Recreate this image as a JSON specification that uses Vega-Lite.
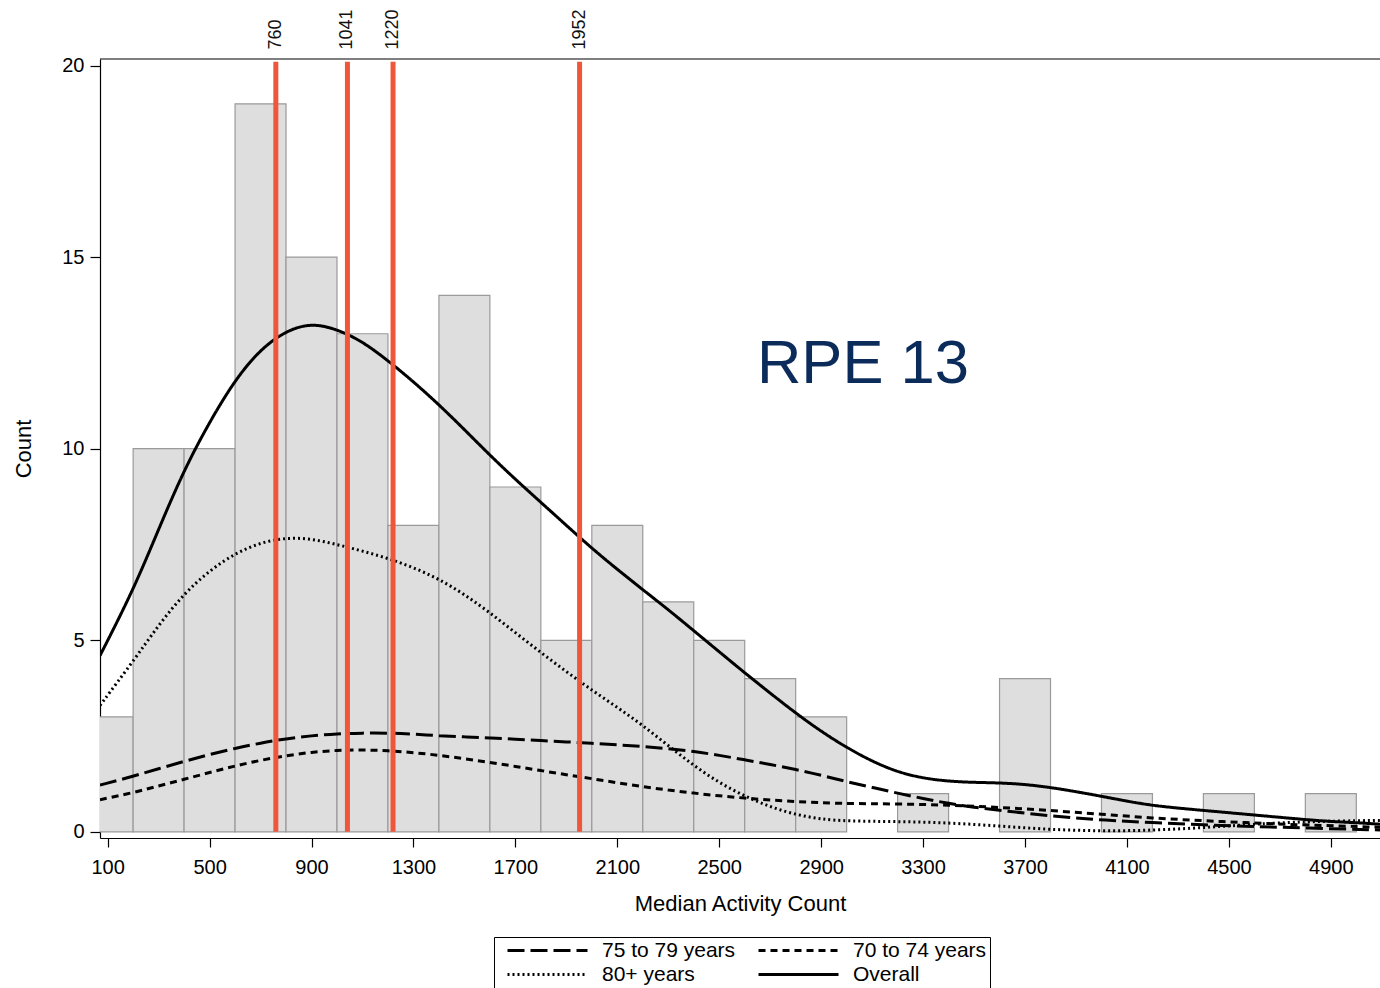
{
  "$schema": "https://vega.github.io/schema/vega-lite/v6.json",
  "width": 1280,
  "height": 779,
  "autosize": "none",
  "padding": {"left": 100, "top": 59, "right": 0, "bottom": 150},
  "background": "white",
  "config": {
    "font": "Liberation Sans",
    "view": {"stroke": null},
    "axis": {
      "grid": false,
      "domainColor": "#000000",
      "domainWidth": 1.2,
      "tickColor": "#000000",
      "tickWidth": 1.2,
      "labelColor": "#000000",
      "labelFont": "Liberation Sans",
      "labelFontSize": 20,
      "titleFont": "Liberation Sans",
      "titleFontSize": 22,
      "titleFontWeight": "normal",
      "titleColor": "#000000"
    },
    "legend": {
      "labelFont": "Liberation Sans",
      "labelFontSize": 21,
      "labelColor": "#000000"
    }
  },
  "datasets": {
    "bars": [
      {"bin_start": 0, "bin_end": 200, "count": 3},
      {"bin_start": 200, "bin_end": 400, "count": 10},
      {"bin_start": 400, "bin_end": 600, "count": 10},
      {"bin_start": 600, "bin_end": 800, "count": 19},
      {"bin_start": 800, "bin_end": 1000, "count": 15},
      {"bin_start": 1000, "bin_end": 1200, "count": 13},
      {"bin_start": 1200, "bin_end": 1400, "count": 8},
      {"bin_start": 1400, "bin_end": 1600, "count": 14},
      {"bin_start": 1600, "bin_end": 1800, "count": 9},
      {"bin_start": 1800, "bin_end": 2000, "count": 5},
      {"bin_start": 2000, "bin_end": 2200, "count": 8},
      {"bin_start": 2200, "bin_end": 2400, "count": 6},
      {"bin_start": 2400, "bin_end": 2600, "count": 5},
      {"bin_start": 2600, "bin_end": 2800, "count": 4},
      {"bin_start": 2800, "bin_end": 3000, "count": 3},
      {"bin_start": 3200, "bin_end": 3400, "count": 1},
      {"bin_start": 3600, "bin_end": 3800, "count": 4},
      {"bin_start": 4000, "bin_end": 4200, "count": 1},
      {"bin_start": 4400, "bin_end": 4600, "count": 1},
      {"bin_start": 4800, "bin_end": 5000, "count": 1}
    ],
    "medians": [
      {"value": 760, "label": "760"},
      {"value": 1041, "label": "1041"},
      {"value": 1220, "label": "1220"},
      {"value": 1952, "label": "1952"}
    ],
    "curves": [
      {"series": "Overall", "x": 70, "y": 4.6},
      {"series": "Overall", "x": 200, "y": 6.3},
      {"series": "Overall", "x": 300, "y": 7.9},
      {"series": "Overall", "x": 400, "y": 9.45},
      {"series": "Overall", "x": 500, "y": 10.7},
      {"series": "Overall", "x": 600, "y": 11.8},
      {"series": "Overall", "x": 700, "y": 12.6},
      {"series": "Overall", "x": 800, "y": 13.08},
      {"series": "Overall", "x": 900, "y": 13.28},
      {"series": "Overall", "x": 1000, "y": 13.12},
      {"series": "Overall", "x": 1100, "y": 12.8},
      {"series": "Overall", "x": 1200, "y": 12.3},
      {"series": "Overall", "x": 1300, "y": 11.75},
      {"series": "Overall", "x": 1400, "y": 11.15},
      {"series": "Overall", "x": 1500, "y": 10.5},
      {"series": "Overall", "x": 1600, "y": 9.83},
      {"series": "Overall", "x": 1700, "y": 9.2},
      {"series": "Overall", "x": 1800, "y": 8.6},
      {"series": "Overall", "x": 1900, "y": 8.0},
      {"series": "Overall", "x": 2000, "y": 7.4},
      {"series": "Overall", "x": 2100, "y": 6.85},
      {"series": "Overall", "x": 2200, "y": 6.32},
      {"series": "Overall", "x": 2300, "y": 5.8},
      {"series": "Overall", "x": 2400, "y": 5.25},
      {"series": "Overall", "x": 2500, "y": 4.7},
      {"series": "Overall", "x": 2600, "y": 4.15},
      {"series": "Overall", "x": 2700, "y": 3.62},
      {"series": "Overall", "x": 2800, "y": 3.1},
      {"series": "Overall", "x": 2900, "y": 2.62},
      {"series": "Overall", "x": 3000, "y": 2.2},
      {"series": "Overall", "x": 3100, "y": 1.84},
      {"series": "Overall", "x": 3200, "y": 1.56},
      {"series": "Overall", "x": 3300, "y": 1.4},
      {"series": "Overall", "x": 3400, "y": 1.32},
      {"series": "Overall", "x": 3500, "y": 1.29},
      {"series": "Overall", "x": 3600, "y": 1.28},
      {"series": "Overall", "x": 3700, "y": 1.24},
      {"series": "Overall", "x": 3800, "y": 1.16},
      {"series": "Overall", "x": 3900, "y": 1.05},
      {"series": "Overall", "x": 4000, "y": 0.93},
      {"series": "Overall", "x": 4100, "y": 0.8},
      {"series": "Overall", "x": 4200, "y": 0.69},
      {"series": "Overall", "x": 4300, "y": 0.62},
      {"series": "Overall", "x": 4400, "y": 0.56},
      {"series": "Overall", "x": 4500, "y": 0.5},
      {"series": "Overall", "x": 4600, "y": 0.44},
      {"series": "Overall", "x": 4700, "y": 0.38},
      {"series": "Overall", "x": 4800, "y": 0.32},
      {"series": "Overall", "x": 4900, "y": 0.27},
      {"series": "Overall", "x": 5000, "y": 0.24},
      {"series": "Overall", "x": 5093, "y": 0.2},

      {"series": "75 to 79 years", "x": 70, "y": 1.22},
      {"series": "75 to 79 years", "x": 200, "y": 1.45},
      {"series": "75 to 79 years", "x": 300, "y": 1.65},
      {"series": "75 to 79 years", "x": 400, "y": 1.84},
      {"series": "75 to 79 years", "x": 500, "y": 2.02},
      {"series": "75 to 79 years", "x": 600, "y": 2.18},
      {"series": "75 to 79 years", "x": 700, "y": 2.32},
      {"series": "75 to 79 years", "x": 800, "y": 2.43},
      {"series": "75 to 79 years", "x": 900, "y": 2.51},
      {"series": "75 to 79 years", "x": 1000, "y": 2.56},
      {"series": "75 to 79 years", "x": 1100, "y": 2.58},
      {"series": "75 to 79 years", "x": 1200, "y": 2.58},
      {"series": "75 to 79 years", "x": 1300, "y": 2.55},
      {"series": "75 to 79 years", "x": 1400, "y": 2.51},
      {"series": "75 to 79 years", "x": 1500, "y": 2.48},
      {"series": "75 to 79 years", "x": 1600, "y": 2.45},
      {"series": "75 to 79 years", "x": 1700, "y": 2.42},
      {"series": "75 to 79 years", "x": 1800, "y": 2.38},
      {"series": "75 to 79 years", "x": 1900, "y": 2.35},
      {"series": "75 to 79 years", "x": 2000, "y": 2.31},
      {"series": "75 to 79 years", "x": 2100, "y": 2.27},
      {"series": "75 to 79 years", "x": 2200, "y": 2.23},
      {"series": "75 to 79 years", "x": 2300, "y": 2.17},
      {"series": "75 to 79 years", "x": 2400, "y": 2.1},
      {"series": "75 to 79 years", "x": 2500, "y": 2.0},
      {"series": "75 to 79 years", "x": 2600, "y": 1.88},
      {"series": "75 to 79 years", "x": 2700, "y": 1.76},
      {"series": "75 to 79 years", "x": 2800, "y": 1.63},
      {"series": "75 to 79 years", "x": 2900, "y": 1.48},
      {"series": "75 to 79 years", "x": 3000, "y": 1.31},
      {"series": "75 to 79 years", "x": 3100, "y": 1.16},
      {"series": "75 to 79 years", "x": 3200, "y": 1.01},
      {"series": "75 to 79 years", "x": 3300, "y": 0.87},
      {"series": "75 to 79 years", "x": 3400, "y": 0.74},
      {"series": "75 to 79 years", "x": 3500, "y": 0.64},
      {"series": "75 to 79 years", "x": 3600, "y": 0.56},
      {"series": "75 to 79 years", "x": 3700, "y": 0.49},
      {"series": "75 to 79 years", "x": 3800, "y": 0.42},
      {"series": "75 to 79 years", "x": 3900, "y": 0.36},
      {"series": "75 to 79 years", "x": 4000, "y": 0.31},
      {"series": "75 to 79 years", "x": 4200, "y": 0.24},
      {"series": "75 to 79 years", "x": 4400, "y": 0.18},
      {"series": "75 to 79 years", "x": 4600, "y": 0.14},
      {"series": "75 to 79 years", "x": 4800, "y": 0.1},
      {"series": "75 to 79 years", "x": 5093, "y": 0.05},

      {"series": "70 to 74 years", "x": 70, "y": 0.84},
      {"series": "70 to 74 years", "x": 200, "y": 1.02},
      {"series": "70 to 74 years", "x": 300, "y": 1.2},
      {"series": "70 to 74 years", "x": 400, "y": 1.37},
      {"series": "70 to 74 years", "x": 500, "y": 1.55},
      {"series": "70 to 74 years", "x": 600, "y": 1.72},
      {"series": "70 to 74 years", "x": 700, "y": 1.87},
      {"series": "70 to 74 years", "x": 800, "y": 1.99},
      {"series": "70 to 74 years", "x": 900, "y": 2.08},
      {"series": "70 to 74 years", "x": 1000, "y": 2.13},
      {"series": "70 to 74 years", "x": 1100, "y": 2.14},
      {"series": "70 to 74 years", "x": 1200, "y": 2.12},
      {"series": "70 to 74 years", "x": 1300, "y": 2.07},
      {"series": "70 to 74 years", "x": 1400, "y": 2.0},
      {"series": "70 to 74 years", "x": 1500, "y": 1.91},
      {"series": "70 to 74 years", "x": 1600, "y": 1.81},
      {"series": "70 to 74 years", "x": 1700, "y": 1.71},
      {"series": "70 to 74 years", "x": 1800, "y": 1.6},
      {"series": "70 to 74 years", "x": 1900, "y": 1.49},
      {"series": "70 to 74 years", "x": 2000, "y": 1.39},
      {"series": "70 to 74 years", "x": 2100, "y": 1.28},
      {"series": "70 to 74 years", "x": 2200, "y": 1.18},
      {"series": "70 to 74 years", "x": 2300, "y": 1.09},
      {"series": "70 to 74 years", "x": 2400, "y": 1.01},
      {"series": "70 to 74 years", "x": 2500, "y": 0.94},
      {"series": "70 to 74 years", "x": 2600, "y": 0.88},
      {"series": "70 to 74 years", "x": 2700, "y": 0.83},
      {"series": "70 to 74 years", "x": 2800, "y": 0.79},
      {"series": "70 to 74 years", "x": 2900, "y": 0.76},
      {"series": "70 to 74 years", "x": 3000, "y": 0.74},
      {"series": "70 to 74 years", "x": 3200, "y": 0.73},
      {"series": "70 to 74 years", "x": 3400, "y": 0.7},
      {"series": "70 to 74 years", "x": 3600, "y": 0.64},
      {"series": "70 to 74 years", "x": 3800, "y": 0.56},
      {"series": "70 to 74 years", "x": 4000, "y": 0.46},
      {"series": "70 to 74 years", "x": 4200, "y": 0.36},
      {"series": "70 to 74 years", "x": 4400, "y": 0.29},
      {"series": "70 to 74 years", "x": 4600, "y": 0.23},
      {"series": "70 to 74 years", "x": 4800, "y": 0.18},
      {"series": "70 to 74 years", "x": 5093, "y": 0.12},

      {"series": "80+ years", "x": 70, "y": 3.3},
      {"series": "80+ years", "x": 200, "y": 4.45},
      {"series": "80+ years", "x": 300, "y": 5.4},
      {"series": "80+ years", "x": 400, "y": 6.22},
      {"series": "80+ years", "x": 500, "y": 6.82},
      {"series": "80+ years", "x": 600, "y": 7.27},
      {"series": "80+ years", "x": 700, "y": 7.55},
      {"series": "80+ years", "x": 800, "y": 7.68},
      {"series": "80+ years", "x": 900, "y": 7.65},
      {"series": "80+ years", "x": 1000, "y": 7.5},
      {"series": "80+ years", "x": 1100, "y": 7.33},
      {"series": "80+ years", "x": 1200, "y": 7.14},
      {"series": "80+ years", "x": 1300, "y": 6.9},
      {"series": "80+ years", "x": 1400, "y": 6.6},
      {"series": "80+ years", "x": 1500, "y": 6.2},
      {"series": "80+ years", "x": 1600, "y": 5.72},
      {"series": "80+ years", "x": 1700, "y": 5.2},
      {"series": "80+ years", "x": 1800, "y": 4.68},
      {"series": "80+ years", "x": 1900, "y": 4.18},
      {"series": "80+ years", "x": 2000, "y": 3.7},
      {"series": "80+ years", "x": 2100, "y": 3.25},
      {"series": "80+ years", "x": 2200, "y": 2.78},
      {"series": "80+ years", "x": 2300, "y": 2.25},
      {"series": "80+ years", "x": 2400, "y": 1.73},
      {"series": "80+ years", "x": 2500, "y": 1.28},
      {"series": "80+ years", "x": 2600, "y": 0.93},
      {"series": "80+ years", "x": 2700, "y": 0.65},
      {"series": "80+ years", "x": 2800, "y": 0.45},
      {"series": "80+ years", "x": 2900, "y": 0.33},
      {"series": "80+ years", "x": 3000, "y": 0.28},
      {"series": "80+ years", "x": 3200, "y": 0.27},
      {"series": "80+ years", "x": 3400, "y": 0.24},
      {"series": "80+ years", "x": 3600, "y": 0.15},
      {"series": "80+ years", "x": 3800, "y": 0.06},
      {"series": "80+ years", "x": 4000, "y": 0.02},
      {"series": "80+ years", "x": 4200, "y": 0.04},
      {"series": "80+ years", "x": 4400, "y": 0.11},
      {"series": "80+ years", "x": 4600, "y": 0.2},
      {"series": "80+ years", "x": 4800, "y": 0.27},
      {"series": "80+ years", "x": 5093, "y": 0.3}
    ]
  },
  "layer": [
    {
      "data": {"name": "bars"},
      "mark": {"type": "rect", "fill": "#dedede", "stroke": "#9a9a9a", "strokeWidth": 1.2, "clip": true},
      "encoding": {
        "x": {
          "field": "bin_start", "type": "quantitative",
          "scale": {"domain": [70, 5093], "nice": false, "zero": false},
          "axis": {
            "orient": "bottom",
            "values": [100, 500, 900, 1300, 1700, 2100, 2500, 2900, 3300, 3700, 4100, 4500, 4900],
            "format": "d",
            "tickSize": 9,
            "labelPadding": 10,
            "title": "Median Activity Count",
            "titlePadding": 16
          }
        },
        "x2": {"field": "bin_end"},
        "y": {
          "field": "count", "type": "quantitative",
          "scale": {"domain": [-0.16, 20.17], "nice": false, "zero": false},
          "axis": {
            "values": [0, 5, 10, 15, 20],
            "tickSize": 10,
            "labelPadding": 6,
            "title": "Count",
            "titlePadding": 26
          }
        },
        "y2": {"datum": 0}
      }
    },
    {
      "data": {"name": "curves"},
      "mark": {"type": "line", "color": "#000000", "strokeWidth": 3, "interpolate": "basis", "clip": true, "strokeCap": "butt"},
      "encoding": {
        "x": {"field": "x", "type": "quantitative", "scale": {"domain": [70, 5093], "nice": false, "zero": false}},
        "y": {"field": "y", "type": "quantitative", "scale": {"domain": [-0.16, 20.17], "nice": false, "zero": false}},
        "strokeDash": {
          "field": "series", "type": "nominal",
          "scale": {
            "domain": ["75 to 79 years", "70 to 74 years", "80+ years", "Overall"],
            "range": [[17, 6], [7, 5], [2, 3], [1, 0]]
          },
          "legend": {
            "title": null,
            "orient": "none",
            "legendX": 394,
            "legendY": 878,
            "columns": 2,
            "direction": "horizontal",
            "symbolType": "stroke",
            "symbolSize": 6400,
            "symbolStrokeWidth": 3,
            "symbolStrokeColor": "#000000",
            "symbolOffset": 9,
            "labelOffset": 13,
            "clipHeight": 21,
            "rowPadding": 2,
            "columnPadding": 12,
            "padding": 3,
            "strokeColor": "#000000",
            "fillColor": "#ffffff"
          }
        }
      }
    },
    {
      "data": {"name": "medians"},
      "mark": {"type": "rule", "color": "#f0573a", "strokeWidth": 5},
      "encoding": {
        "x": {"field": "value", "type": "quantitative"},
        "y": {"datum": 0},
        "y2": {"datum": 20.1}
      }
    },
    {
      "data": {"name": "medians"},
      "mark": {"type": "text", "angle": 270, "align": "left", "baseline": "middle", "fontSize": 18, "color": "#111111", "font": "Liberation Sans"},
      "encoding": {
        "x": {"field": "value", "type": "quantitative"},
        "y": {"datum": 20.42},
        "text": {"field": "label", "type": "nominal"}
      }
    },
    {
      "data": {"values": [{"edge": "top"}]},
      "mark": {"type": "rule", "color": "#000000", "strokeWidth": 1.2},
      "encoding": {
        "y": {"datum": 20.17}
      }
    },
    {
      "data": {"values": [{"label": "RPE 13"}]},
      "mark": {"type": "text", "align": "left", "baseline": "alphabetic", "fontSize": 61.5, "color": "#0b2c5a", "font": "Liberation Sans"},
      "encoding": {
        "x": {"datum": 2648},
        "y": {"datum": 11.72},
        "text": {"field": "label", "type": "nominal"}
      }
    }
  ]
}
